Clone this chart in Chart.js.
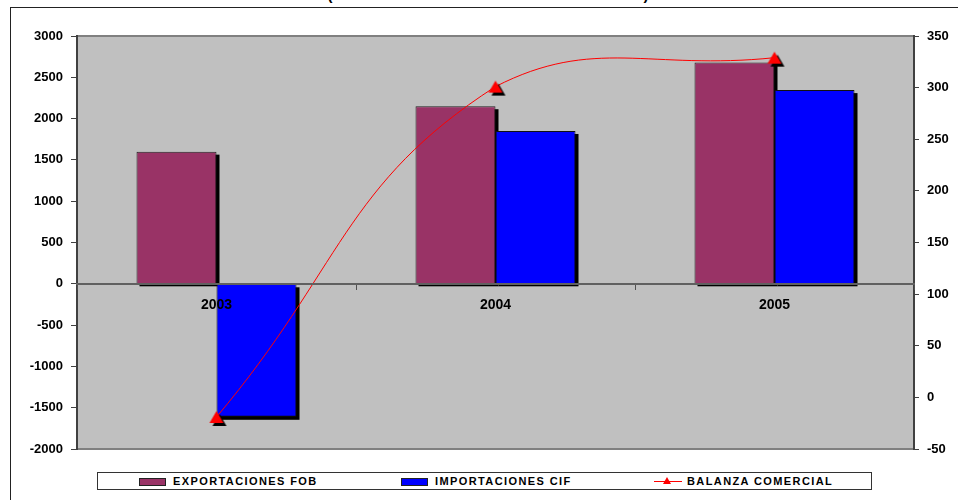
<!DOCTYPE html>
<html>
<head>
<meta charset="utf-8">
<script src="https://cdn.jsdelivr.net/npm/chart.js@4/dist/chart.umd.min.js"></script>
<style>
  html, body { margin: 0; padding: 0; background: #fff; overflow: hidden; }
  #wrap { position: relative; width: 958px; height: 500px; font-family: "Liberation Sans", Arial, sans-serif; }
  #frame { position: absolute; left: 10px; top: 7px; width: 1000px; height: 600px;
           border-left: 1px solid #222; border-top: 1px solid #222; }
  #title { position: absolute; left: 0; width: 976px; top: -13px; text-align: center;
           font-weight: bold; font-size: 15px; line-height: 16px; white-space: nowrap; }
  #chart { position: absolute; left: 0; top: 0; display: block; }
  #legend { position: absolute; left: 97px; top: 472px; width: 775px; height: 18px;
            border: 1px solid #333; background: #fff; box-sizing: border-box; }
  .sw { position: absolute; top: 5px; width: 27px; height: 8px; box-sizing: border-box; border: 1px solid #222; }
  .lab { position: absolute; top: 2px; font-size: 11px; line-height: 13px; font-weight: bold; letter-spacing: 1.4px; white-space: nowrap; }
  .ln { position: absolute; top: 8px; width: 28px; height: 1px; background: #f00; }
  .tri { position: absolute; top: 4px; width: 0; height: 0;
         border-left: 4.5px solid transparent; border-right: 4.5px solid transparent; border-bottom: 7px solid #f00; }
</style>
</head>
<body>
<div id="wrap">
  <div id="frame"></div>
  <div id="title">(EN MILLONES DE DÓLARES AMERICANOS)</div>
  <canvas id="chart" width="958" height="500"></canvas>
  <div id="legend">
    <div class="sw" style="left:41px;background:#993366"></div>
    <div class="lab" id="lab0" style="left:75px"></div>
    <div class="sw" style="left:303px;background:#0000ff"></div>
    <div class="lab" id="lab1" style="left:337px"></div>
    <div class="ln" style="left:556px"></div>
    <div class="tri" style="left:565px"></div>
    <div class="lab" id="lab2" style="left:589px"></div>
  </div>
</div>
<script>
// data
const years = ["2003", "2004", "2005"];
const exportaciones = [1600, 2150, 2680];
const importaciones = [-1610, 1850, 2345];
const balanza = [-19, 301, 329];

const seriesNames = ["EXPORTACIONES FOB", "IMPORTACIONES CIF", "BALANZA COMERCIAL"];

// axis ranges: [min, max, step]
const leftRange = [-2000, 3000, 500];
const rightRange = [-50, 350, 50];

const FONT = '"Liberation Sans", Arial, sans-serif';

seriesNames.forEach((n, i) => { document.getElementById("lab" + i).textContent = n; });

// red triangle marker with its black drop shadow, centred on its box
function makeMarker() {
  const c = document.createElement("canvas");
  c.width = 22; c.height = 20;
  const g = c.getContext("2d");
  const tri = (dx, dy, col) => {
    g.beginPath();
    g.moveTo(11 + dx, 4 + dy);
    g.lineTo(18 + dx, 16 + dy);
    g.lineTo(4 + dx, 16 + dy);
    g.closePath();
    g.fillStyle = col;
    g.fill();
  };
  tri(3, 3, "#000");
  tri(0, 0, "#ff0000");
  return c;
}

// grey plot area with its top and bottom rules
const plotBackground = {
  id: "plotBackground",
  beforeDraw(chart) {
    const { ctx, chartArea: a } = chart;
    ctx.save();
    ctx.fillStyle = "#c0c0c0";
    ctx.fillRect(a.left, a.top, a.right - a.left, a.bottom - a.top);
    ctx.strokeStyle = "#808080";
    ctx.lineWidth = 2;
    ctx.beginPath();
    ctx.moveTo(a.left, a.top);
    ctx.lineTo(a.right, a.top);
    ctx.moveTo(a.left, a.bottom);
    ctx.lineTo(a.right, a.bottom);
    ctx.stroke();
    ctx.restore();
  },
};

// Excel-style black shadow behind each bar
const barShadow = {
  id: "barShadow",
  beforeDatasetsDraw(chart) {
    const ctx = chart.ctx;
    ctx.save();
    ctx.fillStyle = "#000";
    chart.data.datasets.forEach((ds, i) => {
      if (ds.type === "line") return;
      chart.getDatasetMeta(i).data.forEach((bar) => {
        const { x, y, base, width } = bar.getProps(["x", "y", "base", "width"], true);
        const top = Math.min(y, base);
        ctx.fillRect(x - width / 2 + 3, top + 3, width, Math.abs(base - y));
      });
    });
    ctx.restore();
  },
};

const plain = (v) => String(v);

new Chart(document.getElementById("chart"), {
  data: {
    labels: years,
    datasets: [
      {
        type: "line",
        label: seriesNames[2],
        data: balanza,
        yAxisID: "y1",
        order: 0,
        borderColor: "#ff0000",
        borderWidth: 1,
        tension: 0.45,
        pointStyle: makeMarker(),
        pointRadius: 8,
        clip: false,
      },
      {
        type: "bar",
        label: seriesNames[0],
        data: exportaciones,
        yAxisID: "y",
        order: 1,
        backgroundColor: "#993366",
        borderColor: "#222",
        borderWidth: 1,
        categoryPercentage: 0.5735,
        barPercentage: 1.0,
      },
      {
        type: "bar",
        label: seriesNames[1],
        data: importaciones,
        yAxisID: "y",
        order: 2,
        backgroundColor: "#0000ff",
        borderColor: "#111",
        borderWidth: 1,
        categoryPercentage: 0.5735,
        barPercentage: 1.0,
      },
    ],
  },
  options: {
    responsive: false,
    animation: false,
    layout: { padding: { top: 36, bottom: 51, left: 0, right: 0 } },
    plugins: { legend: { display: false }, tooltip: { enabled: false } },
    scales: {
      x: {
        position: { y: 0 },
        offset: true,
        grid: { offset: true, drawOnChartArea: false, tickLength: 5, color: "#505050", z: 1 },
        border: { color: "#606060", width: 2, z: 1 },
        ticks: { z: 2, color: "#000", padding: 8, font: { family: FONT, size: 14, weight: "bold" } },
      },
      y: {
        position: "left",
        min: leftRange[0],
        max: leftRange[1],
        ticks: { stepSize: leftRange[2], callback: plain, color: "#000", padding: 8, font: { family: FONT, size: 13, weight: "bold" } },
        grid: { drawOnChartArea: false, tickLength: 6, color: "#404040" },
        border: { color: "#404040", width: 2 },
        afterFit(scale) { scale.width = 77; },
      },
      y1: {
        position: "right",
        min: rightRange[0],
        max: rightRange[1],
        ticks: { stepSize: rightRange[2], callback: plain, color: "#000", padding: 8, font: { family: FONT, size: 13, weight: "bold" } },
        grid: { drawOnChartArea: false, tickLength: 5, color: "#404040" },
        border: { color: "#404040", width: 2 },
        afterFit(scale) { scale.width = 44; },
      },
    },
  },
  plugins: [plotBackground, barShadow],
});
</script>
</body>
</html>
